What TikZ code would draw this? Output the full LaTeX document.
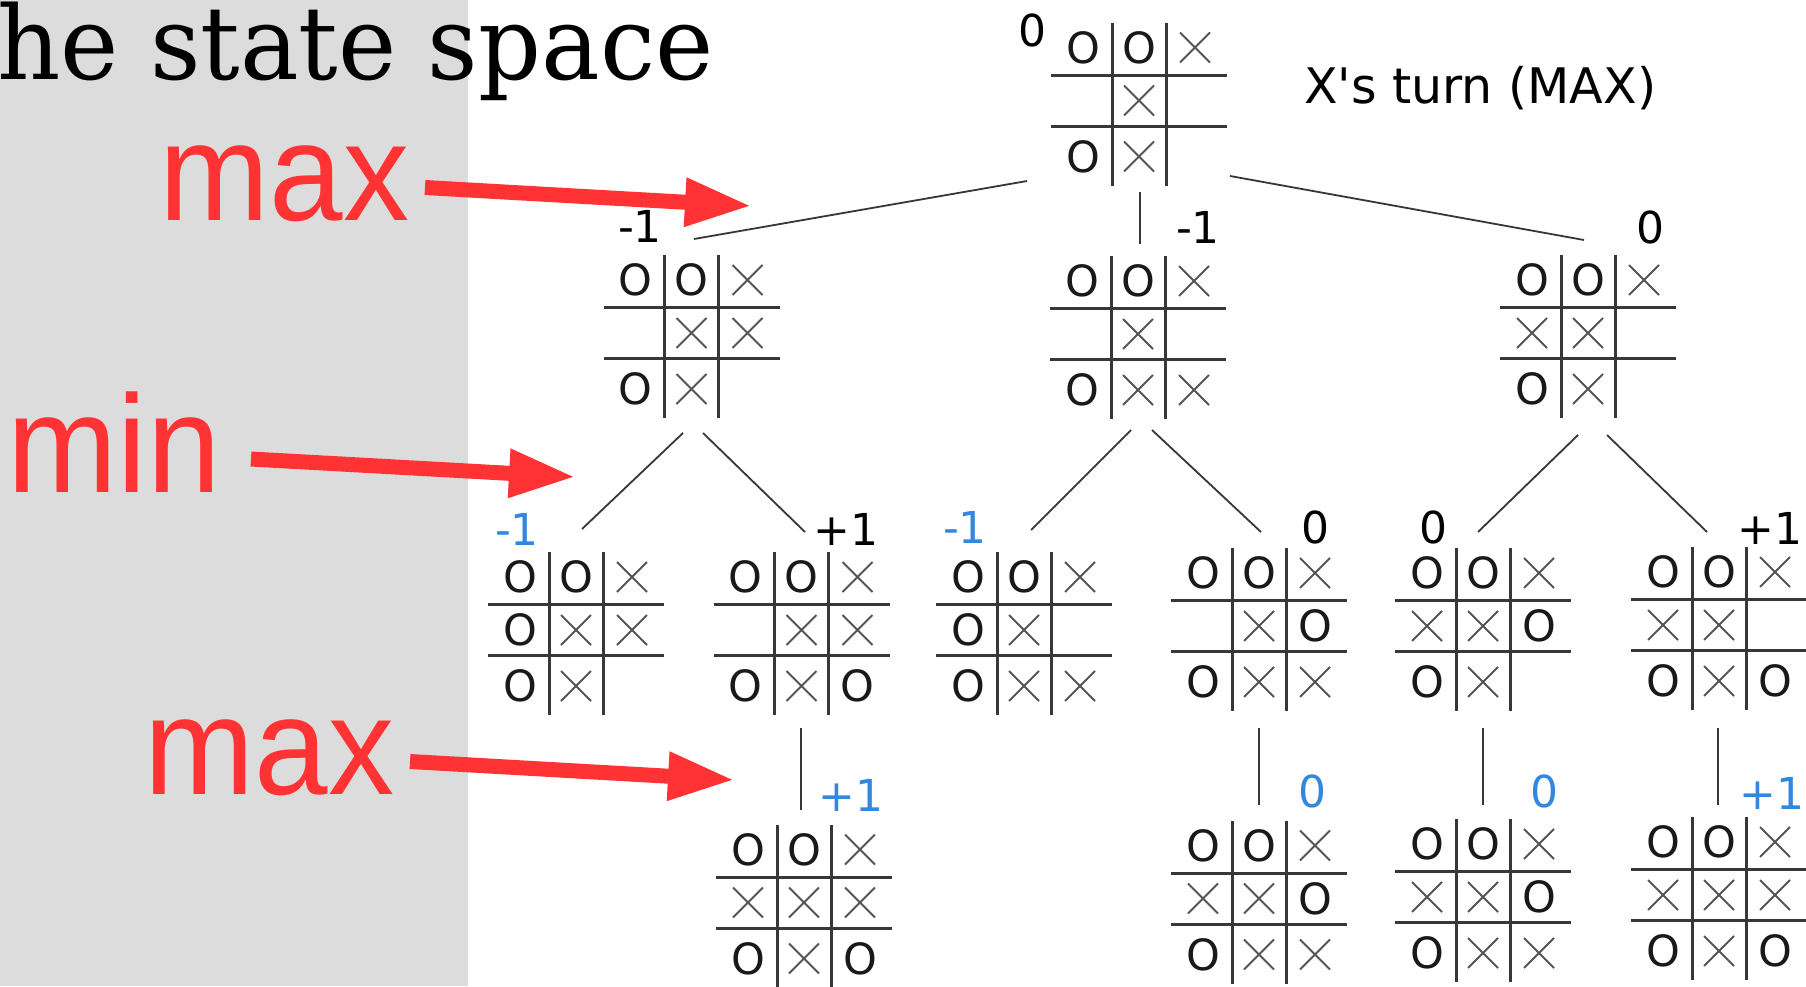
\documentclass[tikz,border=0pt]{standalone}
\usepackage{fontspec}
\setmainfont{DejaVu Sans}
\newfontfamily\serifT{DejaVu Serif}
\newfontfamily\sansD{DejaVu Sans}
\newfontfamily\sansL{Liberation Sans}
\usetikzlibrary{arrows.meta,calc}

\definecolor{redA}{RGB}{255,51,51}
\definecolor{blueA}{RGB}{51,136,221}
\definecolor{bgGray}{RGB}{220,220,220}
\definecolor{gridC}{RGB}{55,55,55}
\definecolor{xC}{RGB}{85,85,85}
\definecolor{oC}{RGB}{25,25,25}

\tikzset{
  gridline/.style={draw=gridC, line width=3pt},
  xmark/.style={draw=xC, line width=2pt},
  omark/.style={text=oC, font=\sansD\fontsize{43}{43}\selectfont, inner sep=0pt},
  conn/.style={draw=gridC, line width=1.8pt},
  val/.style={font=\sansD\fontsize{44}{44}\selectfont, inner sep=0pt, text=black},
  bval/.style={val, text=blueA},
  boardbox/.style={inner sep=0pt, minimum width=176pt, minimum height=164pt},
  redarrow/.style={draw=redA, line width=15pt, -{Triangle[length=67pt,width=45pt]}},
  levellabel/.style={text=redA, inner sep=0pt, anchor=base west,
    font=\sansL\fontsize{139}{139}\selectfont},
}

\newcommand\markO[3]{\node[omark] (#1) at (#2,#3) {O};}
\newcommand\markX[3]{\draw[xmark] (#2-15,#3-15) -- (#2+15,#3+15) (#2-15,#3+15) -- (#2+15,#3-15);}
\newcommand\markN[3]{}

\newcommand\tttboard[4]{%
  \node[boardbox] (#1) at (#2,#3) {};
  \begin{scope}[shift={(#2,#3)}]
    \draw[gridline] (-88,-25.5) -- (88,-25.5) (-88,25.5) -- (88,25.5)
      (-27,-78) -- (-27,85) (27,-78) -- (27,85);
    \foreach \s [count=\i from 0] in {#4} {
      \pgfmathtruncatemacro\cc{mod(\i,3)}
      \pgfmathtruncatemacro\rr{div(\i,3)}
      \pgfmathsetmacro\px{(\cc-1)*56}
      \pgfmathsetmacro\py{\rr==0 ? -53 : (\rr==1 ? 0 : 56)}
      \csname mark\s\endcsname{#1-c\i}{\px}{\py}
    }
  \end{scope}
}

\begin{document}
\begin{tikzpicture}[x=1pt,y=-1pt]
\useasboundingbox (0,0) rectangle (1806,986);
\fill[white] (0,0) rectangle (1806,986);
\fill[bgGray] (0,0) rectangle (468,986);

% title
\node[anchor=base west, inner sep=0pt] (title) at (-3,79)
  {\scalebox{0.965}[1]{\serifT\fontsize{102}{102}\selectfont he state space}};

% level labels
\node[levellabel] (lmax1) at (159.5,220) {\scalebox{0.95}[1]{max}};
\node[levellabel] (lmin) at (7.5,492) {\scalebox{0.95}[1]{min}};
\node[levellabel] (lmax2) at (144.5,794) {\scalebox{0.95}[1]{max}};

\coordinate (a1s) at (425,187.5); \coordinate (a1e) at (752,206);
\coordinate (a2s) at (251,459);   \coordinate (a2e) at (576,477);
\coordinate (a3s) at (410,761.5); \coordinate (a3e) at (735,780);
\draw[redarrow] (a1s) -- (a1e);
\draw[redarrow] (a2s) -- (a2e);
\draw[redarrow] (a3s) -- (a3e);

% turn label
\node[anchor=base west, inner sep=0pt, font=\sansD\fontsize{49}{49}\selectfont]
  (turn) at (1304,103) {X's turn (MAX)};

% boards
\tttboard{b0}{1139}{100.5}{O,O,X,N,X,N,O,X,N}
\tttboard{b1a}{691.5}{333}{O,O,X,N,X,X,O,X,N}
\tttboard{b1b}{1138}{334}{O,O,X,N,X,N,O,X,X}
\tttboard{b1c}{1588}{333}{O,O,X,X,X,N,O,X,N}
\tttboard{b2a}{576}{630}{O,O,X,O,X,X,O,X,N}
\tttboard{b2b}{801.5}{630}{O,O,X,N,X,X,O,X,O}
\tttboard{b2c}{1024}{630}{O,O,X,O,X,N,O,X,X}
\tttboard{b2d}{1259}{626}{O,O,X,N,X,O,O,X,X}
\tttboard{b2e}{1483}{626}{O,O,X,X,X,O,O,X,N}
\tttboard{b2f}{1719}{625}{O,O,X,X,X,N,O,X,O}
\tttboard{b3b}{804}{902.5}{O,O,X,X,X,X,O,X,O}
\tttboard{b3d}{1259}{898.5}{O,O,X,X,X,O,O,X,X}
\tttboard{b3e}{1483}{897}{O,O,X,X,X,O,O,X,X}
\tttboard{b3f}{1719}{895}{O,O,X,X,X,X,O,X,O}

% connectors
\draw[conn] ($(b0.center)+(-112,80.5)$) -- ($(b1a.center)+(2.5,-94)$);
\draw[conn] ($(b0.center)+(1,91.5)$) -- ($(b1b.center)+(2,-90)$);
\draw[conn] ($(b0.center)+(91,75.5)$) -- ($(b1c.center)+(-4,-93)$);
\draw[conn] ($(b1a.center)+(-8.5,100)$) -- ($(b2a.center)+(6,-101)$);
\draw[conn] ($(b1a.center)+(11.5,100)$) -- ($(b2b.center)+(3.5,-98)$);
\draw[conn] ($(b1b.center)+(-7,96)$) -- ($(b2c.center)+(7,-100)$);
\draw[conn] ($(b1b.center)+(14,96)$) -- ($(b2d.center)+(2,-94)$);
\draw[conn] ($(b1c.center)+(-10,102)$) -- ($(b2e.center)+(-5,-94)$);
\draw[conn] ($(b1c.center)+(19,102)$) -- ($(b2f.center)+(-12,-93)$);
\draw[conn] ($(b2b.center)+(-0.5,98)$) -- ($(b3b.center)+(-3,-92.5)$);
\draw[conn] ($(b2d.center)+(0,102)$) -- ($(b3d.center)+(0,-93.5)$);
\draw[conn] ($(b2e.center)+(0,102)$) -- ($(b3e.center)+(0,-92)$);
\draw[conn] ($(b2f.center)+(-1,103)$) -- ($(b3f.center)+(-1,-90)$);

% values
\node[val] (v0) at (1032,30) {0};
\node[val] (v1a) at (640,226) {-1};
\node[val] (v1b) at (1198,227) {-1};
\node[val] (v1c) at (1650,227) {0};
\node[bval] (v2a) at (517,529) {-1};
\node[val] (v2b) at (846,529) {+1};
\node[bval] (v2c) at (965,527) {-1};
\node[val] (v2d) at (1315,527) {0};
\node[val] (v2e) at (1433,527) {0};
\node[val] (v2f) at (1770,528) {+1};
\node[bval] (v3b) at (851,795) {+1};
\node[bval] (v3d) at (1312,791) {0};
\node[bval] (v3e) at (1544,791) {0};
\node[bval] (v3f) at (1772,793) {+1};
\end{tikzpicture}
\end{document}
